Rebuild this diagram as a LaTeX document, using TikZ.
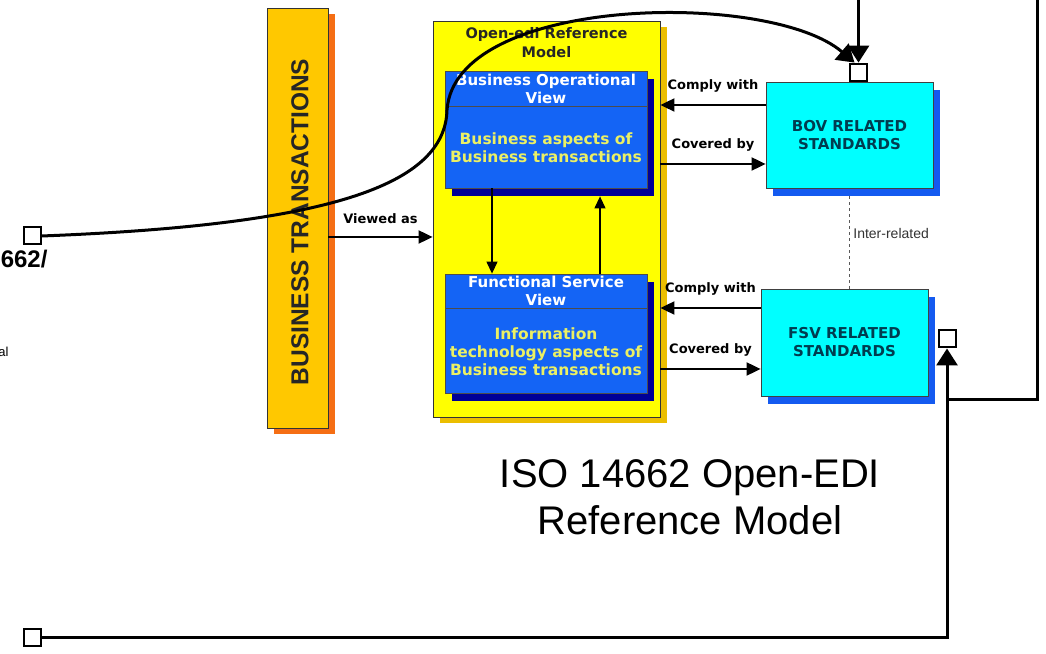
\documentclass[tikz,border=0pt]{standalone}
\usepackage{fontspec}
\setmainfont{Liberation Sans}
\newfontfamily\boxfont{DejaVu Sans}
\usepackage{tikz}
\usetikzlibrary{shadows}
\usetikzlibrary{positioning}
\usetikzlibrary{arrows.meta,calc}

\definecolor{barfill}{RGB}{255,200,0}
\definecolor{barshade}{RGB}{245,110,20}
\definecolor{modelfill}{RGB}{255,255,0}
\definecolor{modelshade}{RGB}{235,190,0}
\definecolor{viewfill}{RGB}{20,100,245}
\definecolor{viewshade}{RGB}{0,0,150}
\definecolor{viewtext}{RGB}{235,240,100}
\definecolor{stdfill}{RGB}{0,255,255}
\definecolor{stdshade}{RGB}{20,90,240}
\definecolor{stdtext}{RGB}{0,60,80}

\tikzstyle{barbox}=[rectangle,draw=black!80,fill=barfill,line width=0.8pt,inner sep=0pt,general shadow={draw=none,fill=barshade,shadow xshift=7pt,shadow yshift=-6pt}]
\tikzstyle{modelbox}=[rectangle,draw=black!80,fill=modelfill,line width=0.8pt,inner sep=0pt,general shadow={draw=none,fill=modelshade,shadow xshift=7pt,shadow yshift=-6pt}]
\tikzstyle{viewbox}=[rectangle,draw=black!70,fill=viewfill,line width=0.8pt,inner sep=0pt,minimum width=202pt,general shadow={draw=none,fill=viewshade,shadow xshift=7pt,shadow yshift=-8pt}]
\tikzstyle{viewhead}=[rectangle,draw=black!70,line width=0.8pt,inner sep=0pt,minimum width=202pt,align=center,text=white,font=\boxfont\bfseries\fontsize{15}{18}\selectfont]
\tikzstyle{viewbody}=[align=center,text=viewtext,font=\boxfont\bfseries\fontsize{15.5}{18}\selectfont]
\tikzstyle{stdbox}=[rectangle,draw=black!75,fill=stdfill,line width=0.8pt,inner sep=0pt,minimum width=167pt,align=center,text=stdtext,font=\boxfont\bfseries\fontsize{15}{18}\selectfont,general shadow={draw=none,fill=stdshade,shadow xshift=7pt,shadow yshift=-8pt}]
\tikzstyle{port}=[rectangle,draw,fill=white,line width=2pt,minimum size=17pt,inner sep=0pt]
\tikzstyle{tag}=[font=\boxfont\bfseries\fontsize{13}{15}\selectfont]
\tikzstyle{flow}=[-{Triangle[length=14pt,width=13pt]},line width=1.9pt]
\tikzstyle{thinflow}=[-{Triangle[length=12pt,width=11pt]},line width=1.2pt]
\tikzstyle{link}=[line width=3pt]
\tikzstyle{bigflow}=[link,-{Triangle[length=17pt,width=21pt]}]

\begin{document}
\begin{tikzpicture}[x=1pt,y=1pt]

  \fill[white] (0,0) rectangle (1046,653);
  \useasboundingbox (0,0) rectangle (1046,653);

  % left margin texts, cut by the page edge
  \node[anchor=east, font=\bfseries\fontsize{24}{28}\selectfont] (isoleft) at (51,394) {662/};
  \node[anchor=east, font=\fontsize{13}{15}\selectfont] (alleft) at (12,301) {al};

  % business transactions bar
  \node[barbox, minimum width=61pt, minimum height=420pt] (bar) at (297.5,435) {};
  \node[rotate=90, text=black!85, font=\bfseries\fontsize{24.5}{28}\selectfont] (bartext) at (300,431) {BUSINESS TRANSACTIONS};

  % reference model
  \node[modelbox, minimum width=227pt, minimum height=396pt] (model) at (546.5,434) {};
  \node[align=center, text=black!85, font=\boxfont\bfseries\fontsize{14.5}{19}\selectfont] (title) at (546.5,610.5) {Open-edi Reference\\Model};

  \node[viewbox, minimum height=117pt] (bov) at (546,523.5) {};
  \node[viewhead, anchor=north, minimum height=35pt] (bovhead) at (bov.north) {Business Operational\\View};
  \node[viewbody] (bovbody) at (546,505) {Business aspects of\\Business transactions};

  \node[viewbox, minimum height=119pt] (fsv) at (546,319.5) {};
  \node[viewhead, anchor=north, minimum height=34pt] (fsvhead) at (fsv.north) {Functional Service\\View};
  \node[viewbody] (fsvbody) at (546,301) {Information\\technology aspects of\\Business transactions};

  \draw[thinflow] ([xshift=-54pt]bov.south) -- ([xshift=-54pt]fsv.north);
  \draw[thinflow] ([xshift=54pt]fsv.north) -- ([xshift=54pt,yshift=-8pt]bov.south);

  \draw[flow] ([yshift=-19pt]bar.east) -- node[tag, above=9pt]{Viewed as} ([yshift=-19pt]bar.east -| model.west);

  % standards
  \node[stdbox, minimum height=106pt] (bovstd) at (849.5,518) {BOV RELATED\\STANDARDS};
  \node[stdbox, minimum height=107pt] (fsvstd) at (844.5,310.5) {FSV RELATED\\STANDARDS};

  \foreach \std/\up/\down in {bovstd/30/-29, fsvstd/34.5/-26.5} {
    \draw[flow] ([yshift=\up pt]\std.west) -- node[tag, above=8pt]{Comply with} ([yshift=\up pt]\std.west -| model.east);
    \draw[flow] ([yshift=\down pt]\std.west -| model.east) -- node[tag, above=8pt]{Covered by} ([yshift=\down pt]\std.west);
  }

  \draw[dashed, black!65, line width=1.1pt] ([yshift=-8pt]bovstd.south) -- (bovstd.south |- fsvstd.north)
     node[pos=0.4, right=0pt, text=black!80, font=\fontsize{14}{16}\selectfont] (interrel) {Inter-related};

  % ports and outer links
  \node[port, anchor=south] (portT) at ([xshift=9pt]bovstd.north) {};
  \node[port] (portR) at (947,314) {};
  \node[port] (portL) at (32,417) {};
  \node[port] (portB) at (32,16) {};

  \coordinate (topin) at (858.5,653);
  \coordinate (rtop) at (1037,653);
  \coordinate (rjoin) at (947,253);

  \draw[bigflow] (topin) -- (portT.north);
  \draw[link] (rtop) |- (rjoin);
  \draw[bigflow] (portB.east) -| (portR.south);
  \draw[bigflow] (portL.east) .. controls (330,428) and (445,468) .. (447,543)
                 .. controls (455,658) and (770,663) .. ([xshift=-4pt]portT.north);

  \node[align=center, font=\fontsize{40}{47}\selectfont] (caption) at (690,156) {ISO 14662 Open-EDI\\Reference Model};

\end{tikzpicture}
\end{document}
